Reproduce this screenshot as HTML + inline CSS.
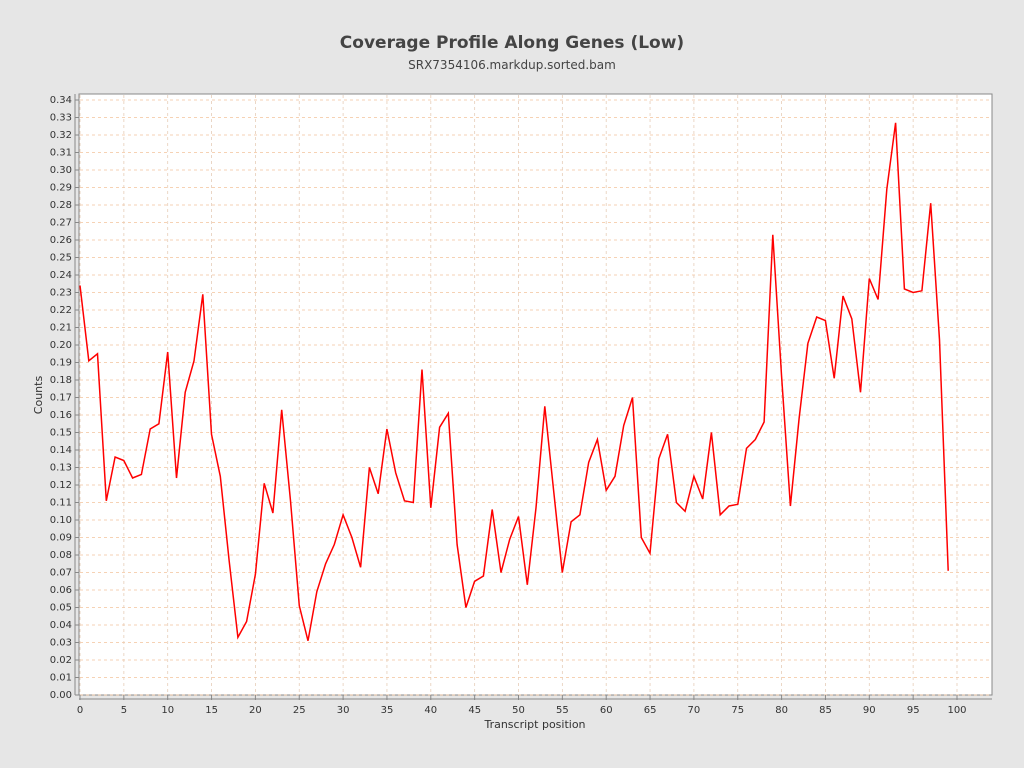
<!DOCTYPE html>
<html><head><meta charset="utf-8"><style>
body{margin:0;background:#e6e6e6;}
svg{display:block;font-family:"DejaVu Sans","Liberation Sans",sans-serif;}
</style></head><body>
<svg id="s" width="1024" height="768" xmlns="http://www.w3.org/2000/svg">
<rect x="0" y="0" width="1024" height="768" fill="#e6e6e6"/>
<text x="512" y="48" text-anchor="middle" font-size="17" font-weight="bold" fill="#444">Coverage Profile Along Genes (Low)</text>
<text x="512" y="69" text-anchor="middle" font-size="12" fill="#444">SRX7354106.markdup.sorted.bam</text>
<rect x="79" y="94" width="913" height="601" fill="#fff" stroke="#888" stroke-width="1"/>
<g id="grid"></g>
<g id="ylab" font-size="10" fill="#333" text-anchor="end">
<text x="72" y="698">0.00</text><text x="72" y="680.5">0.01</text><text x="72" y="663">0.02</text><text x="72" y="645.5">0.03</text><text x="72" y="628">0.04</text><text x="72" y="610.5">0.05</text><text x="72" y="593">0.06</text><text x="72" y="575.5">0.07</text><text x="72" y="558">0.08</text><text x="72" y="540.5">0.09</text><text x="72" y="523">0.10</text><text x="72" y="505.5">0.11</text><text x="72" y="488">0.12</text><text x="72" y="470.5">0.13</text><text x="72" y="453">0.14</text><text x="72" y="435.5">0.15</text><text x="72" y="418">0.16</text><text x="72" y="400.5">0.17</text><text x="72" y="383">0.18</text><text x="72" y="365.5">0.19</text><text x="72" y="348">0.20</text><text x="72" y="330.5">0.21</text><text x="72" y="313">0.22</text><text x="72" y="295.5">0.23</text><text x="72" y="278">0.24</text><text x="72" y="260.5">0.25</text><text x="72" y="243">0.26</text><text x="72" y="225.5">0.27</text><text x="72" y="208">0.28</text><text x="72" y="190.5">0.29</text><text x="72" y="173">0.30</text><text x="72" y="155.5">0.31</text><text x="72" y="138">0.32</text><text x="72" y="120.5">0.33</text><text x="72" y="103">0.34</text>
</g>
<g font-size="10" fill="#333" text-anchor="middle">
<text x="80" y="713">0</text><text x="123.9" y="713">5</text><text x="167.7" y="713">10</text><text x="211.6" y="713">15</text><text x="255.4" y="713">20</text><text x="299.3" y="713">25</text><text x="343.1" y="713">30</text><text x="387" y="713">35</text><text x="430.8" y="713">40</text><text x="474.7" y="713">45</text><text x="518.5" y="713">50</text><text x="562.4" y="713">55</text><text x="606.2" y="713">60</text><text x="650.1" y="713">65</text><text x="693.9" y="713">70</text><text x="737.8" y="713">75</text><text x="781.6" y="713">80</text><text x="825.5" y="713">85</text><text x="869.3" y="713">90</text><text x="913.2" y="713">95</text><text x="957" y="713">100</text>
</g>
<text x="535" y="728" text-anchor="middle" font-size="11" fill="#333">Transcript position</text>
<text transform="translate(42,395) rotate(-90)" text-anchor="middle" font-size="11" fill="#333">Counts</text>
<polyline id="line" fill="none" stroke="#ff0000" stroke-width="1.5"/>
</svg>
<script>
var v=[0.234,0.191,0.195,0.111,0.136,0.134,0.124,0.126,0.152,0.155,0.196,0.124,0.173,0.191,0.229,0.149,0.125,0.077,0.033,0.042,0.069,0.121,0.104,0.163,0.111,0.051,0.031,0.059,0.075,0.086,0.103,0.090,0.073,0.130,0.115,0.152,0.127,0.111,0.110,0.186,0.107,0.153,0.161,0.086,0.050,0.065,0.068,0.106,0.070,0.089,0.102,0.063,0.107,0.165,0.117,0.070,0.099,0.103,0.133,0.146,0.117,0.125,0.154,0.170,0.090,0.081,0.135,0.149,0.110,0.105,0.125,0.112,0.150,0.103,0.108,0.109,0.141,0.146,0.156,0.263,0.182,0.108,0.158,0.201,0.216,0.214,0.181,0.228,0.215,0.173,0.238,0.226,0.289,0.327,0.232,0.230,0.231,0.281,0.203,0.071];
var p=v.map(function(y,i){return (80+i*8.77).toFixed(1)+","+(695-y*1750).toFixed(1)}).join(" ");
document.getElementById("line").setAttribute("points",p);
var g="";
for(var k=0;k<=34;k++){var y=695-k*17.5;g+='<line x1="80" x2="991" y1="'+y+'" y2="'+y+'" stroke="#f3c49c" stroke-width="0.8" stroke-dasharray="3,3"/><line x1="75" x2="79" y1="'+y+'" y2="'+y+'" stroke="#888"/>';}
for(var i=0;i<=100;i+=5){var x=80+i*8.77;g+='<line x1="'+x+'" x2="'+x+'" y1="95" y2="694" stroke="#e6cdb8" stroke-width="0.8" stroke-dasharray="3,3"/><line x1="'+x+'" x2="'+x+'" y1="695" y2="700" stroke="#888"/>';}
g+='<line x1="79" x2="992" y1="699" y2="699" stroke="#888"/><line x1="75" x2="75" y1="94" y2="695" stroke="#888"/>';
document.getElementById("grid").innerHTML=g;
</script>
</body></html>
